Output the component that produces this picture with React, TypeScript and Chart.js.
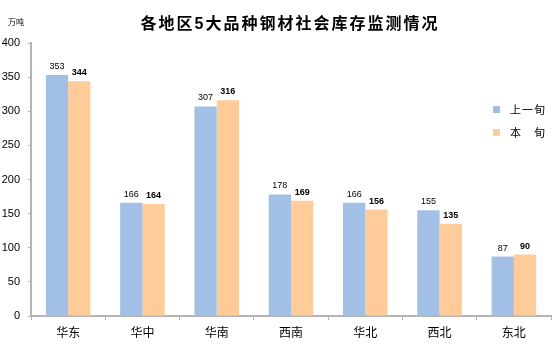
import React, { useEffect, useRef } from "react";
import { Chart, registerables } from "chart.js";

Chart.register(...registerables);

const categories = ["华东", "华中", "华南", "西南", "华北", "西北", "东北"];
const lastPeriod = [353, 166, 307, 178, 166, 155, 87];
const thisPeriod = [344, 164, 316, 169, 156, 135, 90];
const seriesNames = ["上一旬", "本　旬"];
const titleText = "各地区5大品种钢材社会库存监测情况";
const unitText = "万吨";

const BLUE = "#A2C0E6";
const ORANGE = "#FFCC99";
const FONT = "'Liberation Sans', 'Noto Sans CJK SC', sans-serif";

const overlayPlugin = {
  id: "overlay",
  afterDatasetsDraw(chart: any) {
    const ctx = chart.ctx;
    ctx.save();
    chart.data.datasets.forEach((ds: any, di: number) => {
      const meta = chart.getDatasetMeta(di);
      ctx.font = (di === 1 ? "bold " : "") + "9px " + FONT;
      ctx.fillStyle = "#000";
      ctx.textAlign = "center";
      ctx.textBaseline = "bottom";
      meta.data.forEach((bar: any, i: number) => {
        ctx.fillText(String(ds.data[i]), bar.x, bar.y - 4);
      });
    });
    ctx.restore();
  },
  afterDraw(chart: any) {
    const ctx = chart.ctx;
    const area = chart.chartArea;
    ctx.save();
    // title
    ctx.font = "bold 16px " + FONT;
    ctx.fillStyle = "#000";
    ctx.textAlign = "center";
    ctx.textBaseline = "middle";
    (ctx as any).letterSpacing = "2px";
    ctx.fillText(titleText, 290, 25);
    (ctx as any).letterSpacing = "0px";
    // unit
    ctx.font = "8px " + FONT;
    ctx.textAlign = "left";
    ctx.fillText(unitText, 8, 23);
    // legend
    const colors = [BLUE, ORANGE];
    ctx.font = "11px " + FONT;
    (ctx as any).letterSpacing = "1px";
    seriesNames.forEach((name, i) => {
      const y = area.top + 63 + i * 23;
      ctx.fillStyle = colors[i];
      ctx.fillRect(area.right - 58, y, 7, 7);
      ctx.fillStyle = "#000";
      ctx.fillText(name, area.right - 41, y + 5);
    });
    ctx.restore();
  },
};

export default function App() {
  const ref = useRef<HTMLCanvasElement>(null);
  useEffect(() => {
    document.body.style.margin = "0";
    const chart = new Chart(ref.current as HTMLCanvasElement, {
      type: "bar",
      data: {
        labels: categories,
        datasets: [
          { label: seriesNames[0], data: lastPeriod, backgroundColor: BLUE, categoryPercentage: 0.6, barPercentage: 1 },
          { label: seriesNames[1], data: thisPeriod, backgroundColor: ORANGE, categoryPercentage: 0.6, barPercentage: 1 },
        ],
      },
      options: {
        responsive: false,
        animation: false,
        layout: { padding: { left: 0, top: 43, right: 9, bottom: 0 } },
        plugins: { legend: { display: false }, title: { display: false }, tooltip: { enabled: false } },
        scales: {
          x: {
            grid: { display: true, drawOnChartArea: false, drawTicks: true, tickLength: 4, color: "#b4b4b4", offset: true },
            border: { display: true, color: "#b4b4b4", width: 2 },
            ticks: { color: "#000", font: { size: 12, family: FONT }, padding: 6 },
            afterFit: (s: any) => { s.height = 40; },
          },
          y: {
            min: 0,
            max: 400,
            ticks: { stepSize: 50, color: "#000", font: { size: 11, family: FONT }, padding: 8 },
            grid: { display: true, drawOnChartArea: false, drawTicks: true, tickLength: 3, color: "#b4b4b4" },
            border: { display: true, color: "#b4b4b4", width: 2 },
            afterFit: (s: any) => { s.width = 31; },
          },
        },
      },
      plugins: [overlayPlugin],
    });
    return () => chart.destroy();
  }, []);
  return (
    <div style={{ width: 560, height: 356, background: "#fff" }}>
      <canvas ref={ref} width={560} height={356} />
    </div>
  );
}
